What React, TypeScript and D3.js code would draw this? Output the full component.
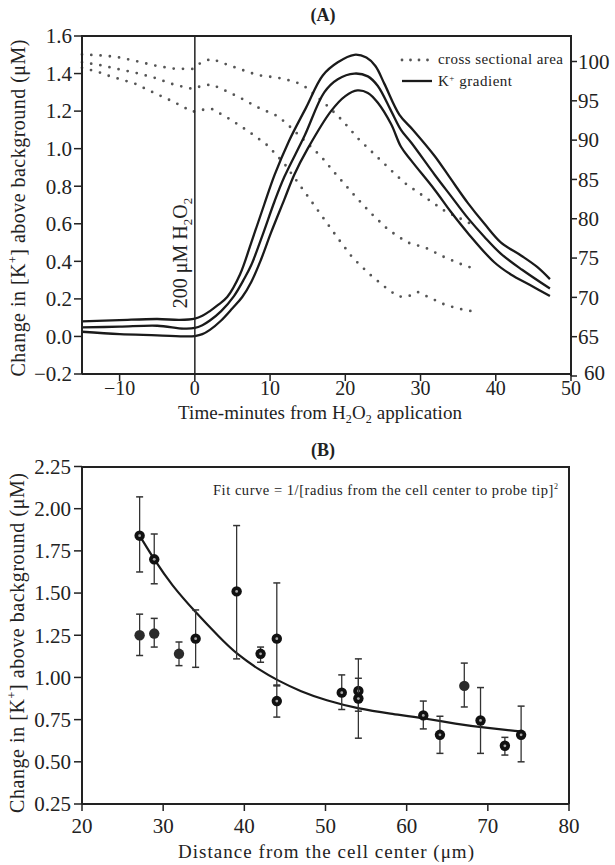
import React from 'react';
import * as d3 from 'd3';

// panel A: K+ gradient (mean and two bounds)
const kUpper = [[-15,0.08],[-10,0.087],[-5,0.093],[-2,0.088],[0,0.095],[1,0.11],[2,0.135],[3,0.165],[4.3,0.21],[6,0.33],[7.5,0.5],[9.2,0.7],[10.6,0.86],[12.5,1.04],[14.8,1.22],[17,1.39],[19,1.46],[21.2,1.5],[22.8,1.485],[24,1.44],[25.2,1.345],[27.2,1.18],[29,1.1],[31.9,0.96],[34,0.84],[36.3,0.71],[38.5,0.6],[40.7,0.5],[43.4,0.43],[45.5,0.37],[47.2,0.305]];
const kMid = [[-15,0.048],[-10,0.052],[-5,0.057],[-1.5,0.042],[0,0.045],[1,0.06],[2,0.085],[3.5,0.135],[5.2,0.215],[6.6,0.31],[7.5,0.38],[9,0.54],[10.6,0.72],[11.9,0.85],[14.6,1.07],[17.2,1.3],[19,1.37],[21.2,1.4],[23,1.385],[24.3,1.335],[26.1,1.2],[27.4,1.1],[28.8,1.03],[31.9,0.86],[34,0.75],[36.3,0.63],[38.5,0.53],[40.7,0.44],[43.5,0.355],[47.2,0.255]];
const kLower = [[-15,0.025],[-10,0.012],[-5,0.006],[-1,0.0],[0,0.002],[1,0.012],[2,0.035],[3.5,0.085],[5,0.15],[6.3,0.21],[7.5,0.29],[8.8,0.41],[10.1,0.55],[11.9,0.73],[13.2,0.86],[15,1.0],[18.1,1.2],[20,1.28],[21.6,1.31],[23,1.297],[24.3,1.246],[26.1,1.13],[27.4,1.01],[28.8,0.935],[31.9,0.78],[34,0.665],[36.3,0.55],[39.8,0.395],[42,0.33],[44.5,0.275],[47.2,0.215]];

// panel A: cross sectional area (right axis)
const areaTop = [[-15,100.9],[-12.9,100.8],[-10.5,100.6],[-8,100.1],[-5.4,99.5],[-2.9,99.1],[-0.3,99.05],[0.8,99.85],[2.2,100.35],[4.6,99.5],[7,98.7],[8.4,98.25],[11,97.95],[13.4,97.4],[14.8,96.7],[15.9,95.8],[17.8,94.2],[19.6,92.5],[21.8,90.1],[24.3,87.8],[26.7,85.6],[28.1,84.4],[30.5,82.8],[33.2,81.0],[36.6,79.4]];
const areaMid = [[-15,99.9],[-12.9,99.6],[-10.5,99.1],[-8,98.6],[-5.4,97.95],[-2.9,97.1],[-0.3,96.5],[0.6,96.8],[2.2,97.1],[4.6,96.05],[6,95.4],[8.3,94.2],[10.9,93.1],[12.1,92.2],[14.5,90.0],[16.8,87.9],[18.8,85.6],[21,83.2],[23.3,80.8],[25.7,78.6],[28.2,77.0],[30.7,76.3],[33.2,75.1],[35.7,74.1],[37,73.7]];
const areaLow = [[-15,99.2],[-12.9,98.7],[-11.5,98.2],[-8,97.2],[-5.4,96.0],[-2.9,94.9],[-0.3,93.6],[0.6,93.8],[2.2,94.0],[4.6,92.7],[7,91.2],[8.3,90.3],[9.7,89.3],[11.9,87.0],[13.7,84.6],[15.5,82.2],[17.3,79.8],[19.1,77.4],[21,75.0],[23.4,72.8],[25.8,70.9],[27.1,70.1],[28.3,70.1],[29.6,70.7],[30.9,70.1],[33.4,69.0],[35.8,68.4],[37.1,68.2]];

const timeTicks = [-10, 0, 10, 20, 30, 40, 50];
const kTicksA = [-0.2, 0, 0.2, 0.4, 0.6, 0.8, 1.0, 1.2, 1.4, 1.6];
const areaTicks = [60, 65, 70, 75, 80, 85, 90, 95, 100];

// panel B: points with error bars
const dist = [27.1, 27.1, 28.9, 28.9, 31.95, 34.0, 39.05, 42.0, 44.0, 44.0, 52.0, 54.05, 54.05, 62.05, 64.1, 67.1, 69.1, 72.1, 74.1];
const kMean = [1.84, 1.25, 1.70, 1.26, 1.14, 1.23, 1.51, 1.14, 1.23, 0.86, 0.91, 0.92, 0.875, 0.775, 0.66, 0.95, 0.745, 0.595, 0.66];
const kLow = [1.625, 1.13, 1.555, 1.18, 1.07, 1.06, 1.11, 1.09, 0.95, 0.765, 0.81, 0.8, 0.64, 0.695, 0.55, 0.825, 0.55, 0.54, 0.5];
const kHigh = [2.07, 1.375, 1.85, 1.35, 1.21, 1.4, 1.9, 1.18, 1.56, 0.955, 1.015, 1.11, 0.995, 0.86, 0.77, 1.085, 0.94, 0.645, 0.83];
const solidPt = [false, true, false, true, true, false, false, false, false, false, false, false, false, false, false, true, false, false, false];

// fit curve
const fitDist = [27.1, 29, 31, 34, 37, 39, 42, 44, 47, 50, 54, 58, 62, 66, 70, 74];
const fitK = [1.84, 1.69, 1.55, 1.385, 1.235, 1.14, 1.04, 0.985, 0.915, 0.865, 0.815, 0.785, 0.76, 0.725, 0.70, 0.68];

const distTicks = [20, 30, 40, 50, 60, 70, 80];
const kTicksB = [0.25, 0.5, 0.75, 1.0, 1.25, 1.5, 1.75, 2.0, 2.25];

const serif = '"Liberation Serif", "Times New Roman", serif';

export default function App() {
  const xA = d3.scaleLinear().domain([-15, 50]).range([82, 571]);
  const yA = d3.scaleLinear().domain([-0.2, 1.6]).range([374, 36]);
  const yR = d3.scaleLinear().domain([60, 100]).range([376, 61.5]);

  const xB = d3.scaleLinear().domain([20, 80]).range([82, 569]);
  const yB = d3.scaleLinear().domain([0.25, 2.25]).range([804, 466.5]);

  const kLine = d3.line<number[]>().x(d => xA(d[0])).y(d => yA(d[1])).curve(d3.curveCatmullRom.alpha(0.5));
  const areaLine = d3.line<number[]>().x(d => xA(d[0])).y(d => yR(d[1]));
  const fitLine = d3.line<number>().x(d => xB(d)).y((d, i) => yB(fitK[i])).curve(d3.curveBasis);

  const fA = d3.format('.1f');
  const fB = d3.format('.2f');

  return (
    <svg width={615} height={865} style={{ position: 'absolute', left: 0, top: 0, background: '#fff' }} fontFamily={serif} fill="#222">
      <rect width={615} height={865} fill="#fff" />

      {/* ---------- panel A ---------- */}
      <text x={323} y={21} textAnchor="middle" fontSize={18} fontWeight="bold">(A)</text>

      {[areaTop, areaMid, areaLow].map((s, i) => (
        <path key={'ar' + i} d={areaLine(s) || ''} fill="none" stroke="#555" strokeWidth={2.8}
          strokeLinecap="round" strokeDasharray="0 9.3" />
      ))}
      {[kUpper, kMid, kLower].map((s, i) => (
        <path key={'k' + i} d={kLine(s) || ''} fill="none" stroke="#1a1a1a" strokeWidth={2.3} />
      ))}

      {/* H2O2 marker */}
      <line x1={xA(0)} x2={xA(0)} y1={36} y2={374} stroke="#222" strokeWidth={1.5} />
      <text transform={`translate(187,253) rotate(-90)`} textAnchor="middle" fontSize={20}>
        200 μM H<tspan fontSize={13} dy={5}>2</tspan><tspan dy={-5}>O</tspan><tspan fontSize={13} dy={5}>2</tspan>
      </text>

      {/* frame */}
      <path d="M82,374V36H571V376" fill="none" stroke="#222" strokeWidth={2} />
      <line x1={82} x2={571} y1={374} y2={374} stroke="#222" strokeWidth={2} />

      {kTicksA.map(t => (
        <g key={'ya' + t}>
          <line x1={74} x2={82} y1={yA(t)} y2={yA(t)} stroke="#222" strokeWidth={1.5} />
          <text x={72} y={yA(t)} dy="0.35em" textAnchor="end" fontSize={21}>{fA(t)}</text>
        </g>
      ))}
      {timeTicks.map(t => (
        <g key={'xa' + t}>
          <line x1={xA(t)} x2={xA(t)} y1={374} y2={381} stroke="#222" strokeWidth={1.5} />
          <text x={xA(t)} y={395} textAnchor="middle" fontSize={20}>{d3.format('d')(t)}</text>
        </g>
      ))}
      {areaTicks.map(t => (
        <g key={'yr' + t}>
          <line x1={571} x2={577} y1={yR(t)} y2={yR(t)} stroke="#222" strokeWidth={1.5} />
          <text x={t === 60 ? 584 : 578} y={yR(t)} dy={t === 60 ? '0.2em' : '0.35em'} fontSize={21}>{t}</text>
        </g>
      ))}

      <text transform="translate(25,208) rotate(-90)" textAnchor="middle" fontSize={20} textLength={337}>
        Change in [K<tspan fontSize={12} dy={-8}>+</tspan><tspan dy={8}>] above background (μM)</tspan>
      </text>
      <text x={320} y={419} textAnchor="middle" fontSize={19} textLength={284}>
        Time-minutes from H<tspan fontSize={12} dy={4}>2</tspan><tspan dy={-4}>O</tspan><tspan fontSize={12} dy={4}>2</tspan><tspan dy={-4}> application</tspan>
      </text>

      {/* legend */}
      <line x1={402} x2={430} y1={60} y2={60} stroke="#555" strokeWidth={2.8} strokeLinecap="round" strokeDasharray="0 8.5" />
      <text x={438} y={64} fontSize={15} textLength={125}>cross sectional area</text>
      <line x1={402} x2={432} y1={81} y2={81} stroke="#1a1a1a" strokeWidth={2.3} />
      <text x={438} y={86} fontSize={15} textLength={74}>K<tspan fontSize={9} dy={-5}>+</tspan><tspan dy={5}> gradient</tspan></text>

      {/* ---------- panel B ---------- */}
      <text x={323} y={456} textAnchor="middle" fontSize={18} fontWeight="bold">(B)</text>

      <path d="M82,804V467H569V804" fill="none" stroke="#222" strokeWidth={2} />
      <line x1={82} x2={569} y1={804} y2={804} stroke="#222" strokeWidth={2} />

      <path d={fitLine(fitDist) || ''} fill="none" stroke="#1a1a1a" strokeWidth={2.2} />

      {dist.map((d, i) => (
        <g key={'pt' + i}>
          <line x1={xB(d)} x2={xB(d)} y1={yB(kLow[i])} y2={yB(kHigh[i])} stroke="#333" strokeWidth={1.3} />
          <line x1={xB(d) - 3.5} x2={xB(d) + 3.5} y1={yB(kLow[i])} y2={yB(kLow[i])} stroke="#333" strokeWidth={1.5} />
          <line x1={xB(d) - 3.5} x2={xB(d) + 3.5} y1={yB(kHigh[i])} y2={yB(kHigh[i])} stroke="#333" strokeWidth={1.5} />
          <circle cx={xB(d)} cy={yB(kMean[i])} r={5.2} fill={solidPt[i] ? '#2b2b2b' : '#111'} />
          {!solidPt[i] && <circle cx={xB(d)} cy={yB(kMean[i])} r={1.4} fill="#aaa" />}
        </g>
      ))}

      {kTicksB.map(t => (
        <g key={'yb' + t}>
          <line x1={74} x2={82} y1={yB(t)} y2={yB(t)} stroke="#222" strokeWidth={1.5} />
          <text x={71} y={yB(t)} dy="0.35em" textAnchor="end" fontSize={21}>{fB(t)}</text>
        </g>
      ))}
      {distTicks.map(t => (
        <g key={'xb' + t}>
          <line x1={xB(t)} x2={xB(t)} y1={804} y2={811} stroke="#222" strokeWidth={1.5} />
          <text x={xB(t)} y={833} textAnchor="middle" fontSize={21}>{t}</text>
        </g>
      ))}

      <text transform="translate(24,643) rotate(-90)" textAnchor="middle" fontSize={20} textLength={340}>
        Change in [K<tspan fontSize={12} dy={-8}>+</tspan><tspan dy={8}>] above background (μM)</tspan>
      </text>
      <text x={326} y={858} textAnchor="middle" fontSize={19} textLength={296}>Distance from the cell center (μm)</text>

      <text x={213} y={495} fontSize={14.5} textLength={345}>
        Fit curve = 1/[radius from the cell center to probe tip]<tspan fontSize={8} dy={-6}>2</tspan>
      </text>
    </svg>
  );
}
